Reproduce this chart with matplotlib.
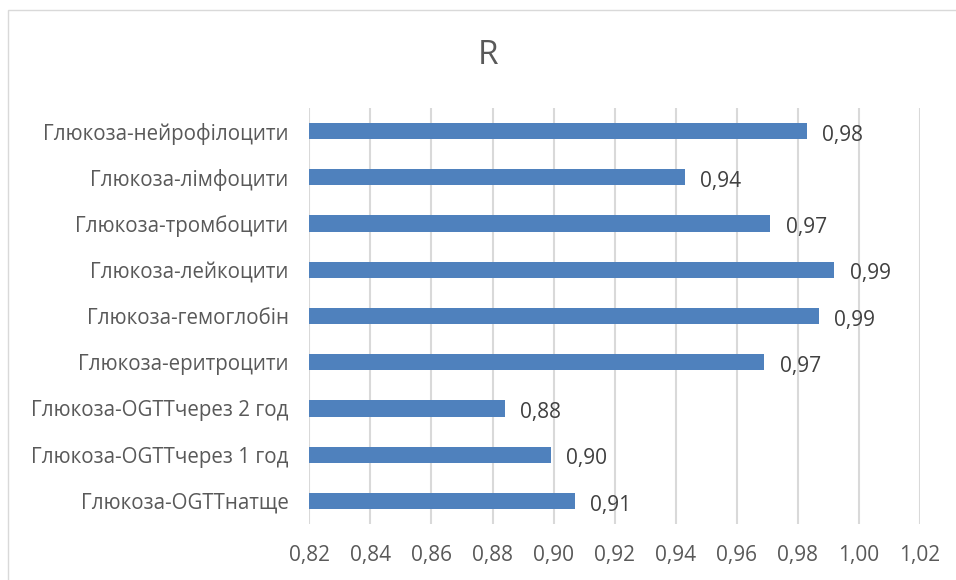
import matplotlib.pyplot as plt
from matplotlib.patches import Rectangle

categories = ['Глюкоза-OGTTнатще', 'Глюкоза-OGTTчерез 1 год', 'Глюкоза-OGTTчерез 2 год',
              'Глюкоза-еритроцити', 'Глюкоза-гемоглобін', 'Глюкоза-лейкоцити',
              'Глюкоза-тромбоцити', 'Глюкоза-лімфоцити', 'Глюкоза-нейрофілоцити']
r_values = [0.907, 0.899, 0.884, 0.969, 0.987, 0.992, 0.971, 0.943, 0.983]
x_ticks = [0.82, 0.84, 0.86, 0.88, 0.90, 0.92, 0.94, 0.96, 0.98, 1.00, 1.02]

plt.rcParams['font.family'] = ['Open Sans', 'DejaVu Sans']

fig = plt.figure(figsize=(9.56, 5.8), dpi=100)
ax = fig.add_axes([0.3236, 0.0966, 0.6387, 0.7172])

base = x_ticks[0]
y = range(len(categories))
ax.barh(y, [v - base for v in r_values], left=base, height=0.35, color='#4f81bd', zorder=3)

for i, v in enumerate(r_values):
    ax.annotate(f'{v:.2f}'.replace('.', ','), xy=(v, i), xytext=(11, -3),
                textcoords='offset points', va='center', ha='left',
                fontsize=15, color='#404040')

ax.set_xlim(x_ticks[0], x_ticks[-1])
ax.set_ylim(-0.5, len(categories) - 0.5)
ax.set_xticks(x_ticks)
ax.set_xticklabels([f'{t:.2f}'.replace('.', ',') for t in x_ticks], fontsize=15, color='#595959')
ax.set_yticks(list(y))
ax.set_yticklabels(categories, fontsize=14.8, color='#595959')
ax.tick_params(length=0, pad=15)
ax.tick_params(axis='x', pad=15)

ax.grid(axis='x', color='#d9d9d9', linewidth=1.5, zorder=0)
for s in ax.spines.values():
    s.set_visible(False)

fig.text(0.5105, 0.905, 'R', ha='center', va='center', fontsize=24, color='#595959')

# light chart-area border
fig.add_artist(Rectangle((8 / 956, -0.01), 1.0, 1 - 10 / 580 + 0.01, transform=fig.transFigure,
                         fill=False, edgecolor='#d9d9d9', linewidth=1.0))

fig.savefig('out.png', dpi=100, facecolor='white')
